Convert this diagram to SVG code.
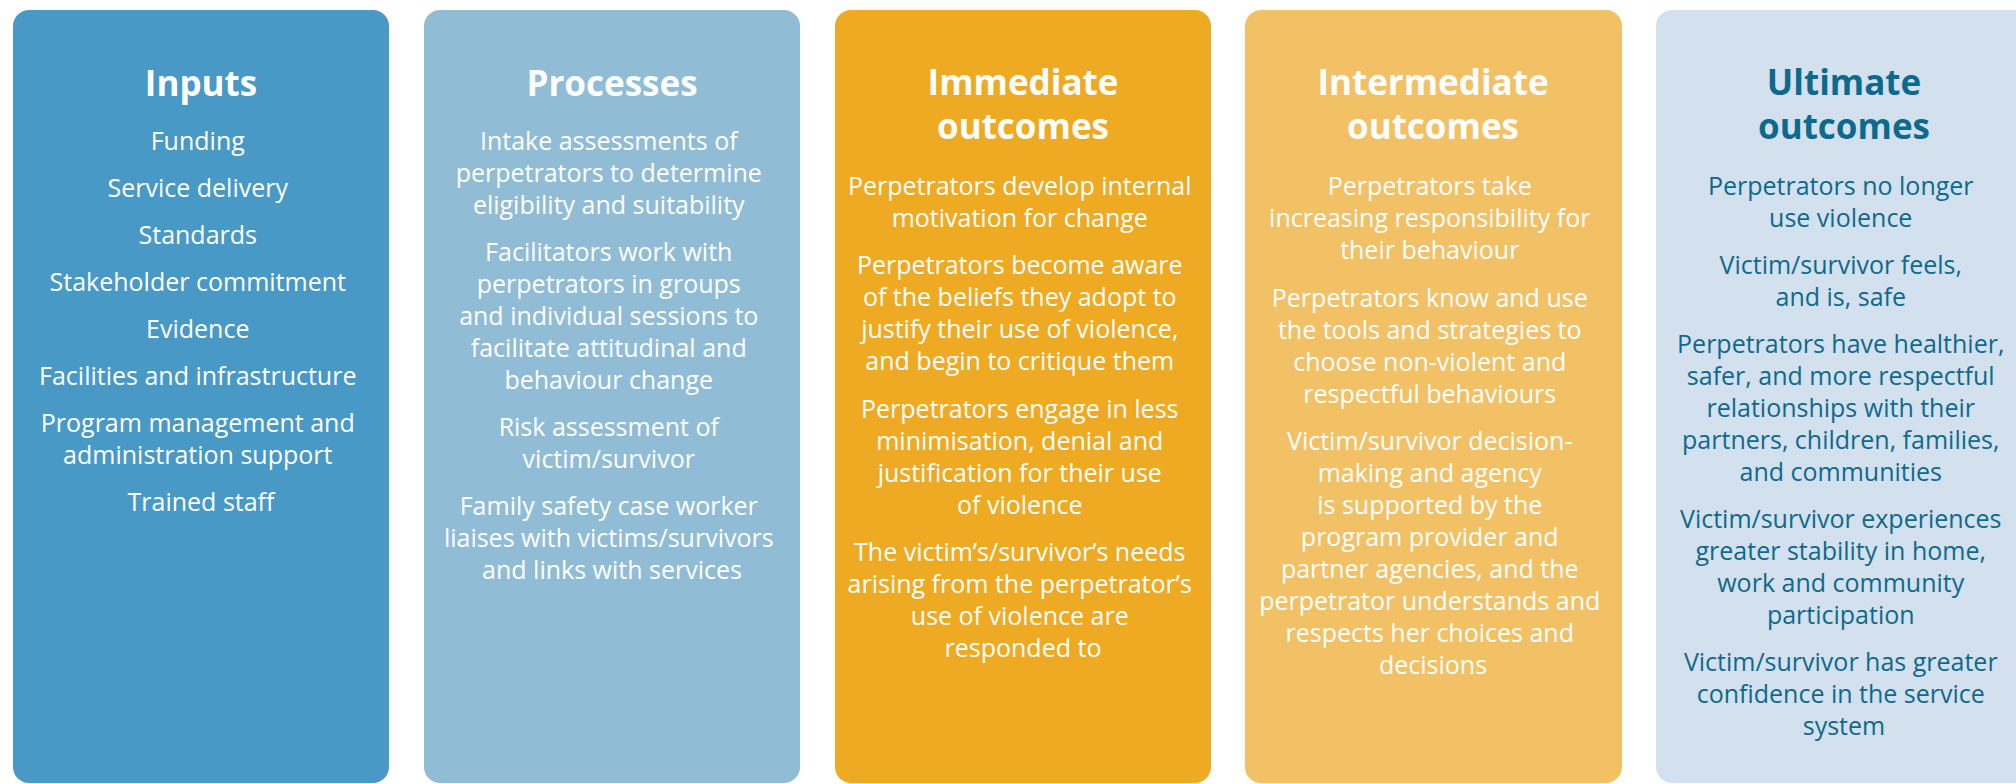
<svg xmlns="http://www.w3.org/2000/svg" width="2016" height="784" viewBox="0 0 2016 784">
<style>
.box{stroke:none}
.t{font-family:"Open Sans","Noto Sans","DejaVu Sans",sans-serif;text-anchor:middle}
.h{font-size:35px;font-weight:700}
.b{font-size:25px;font-weight:400}
.w{fill:#ffffff}
.d{fill:#0e6a8c}
</style>
<rect width="2016" height="784" fill="#ffffff"/>
<g id="inputs">
<rect class="box" x="13" y="10" width="376" height="773" rx="16" fill="#4899c6"/>
<text class="t h w" x="201" y="96">Inputs</text>
<text class="t b w" x="201">
<tspan x="201" y="150">Funding</tspan>
<tspan x="201" y="197">Service delivery</tspan>
<tspan x="201" y="244">Standards</tspan>
<tspan x="201" y="291">Stakeholder commitment</tspan>
<tspan x="201" y="338">Evidence</tspan>
<tspan x="201" y="385">Facilities and infrastructure</tspan>
<tspan x="201" y="432">Program management and</tspan>
<tspan x="201" y="464">administration support</tspan>
<tspan x="201" y="511">Trained staff</tspan>
</text>
</g>
<g id="processes">
<rect class="box" x="424" y="10" width="376" height="773" rx="16" fill="#90bcd5"/>
<text class="t h w" x="612" y="96">Processes</text>
<text class="t b w" x="612">
<tspan x="612" y="150">Intake assessments of</tspan>
<tspan x="612" y="182">perpetrators to determine</tspan>
<tspan x="612" y="214">eligibility and suitability</tspan>
<tspan x="612" y="261">Facilitators work with</tspan>
<tspan x="612" y="293">perpetrators in groups</tspan>
<tspan x="612" y="325">and individual sessions to</tspan>
<tspan x="612" y="357">facilitate attitudinal and</tspan>
<tspan x="612" y="389">behaviour change</tspan>
<tspan x="612" y="436">Risk assessment of</tspan>
<tspan x="612" y="468">victim/survivor</tspan>
<tspan x="612" y="515">Family safety case worker</tspan>
<tspan x="612" y="547">liaises with victims/survivors</tspan>
<tspan x="612" y="579">and links with services</tspan>
</text>
</g>
<g id="immediate-outcomes">
<rect class="box" x="835" y="10" width="376" height="773" rx="16" fill="#eeaa22"/>
<text class="t h w" x="1023" y="95">Immediate</text>
<text class="t h w" x="1023" y="139">outcomes</text>
<text class="t b w" x="1023">
<tspan x="1023" y="195">Perpetrators develop internal</tspan>
<tspan x="1023" y="227">motivation for change</tspan>
<tspan x="1023" y="274">Perpetrators become aware</tspan>
<tspan x="1023" y="306">of the beliefs they adopt to</tspan>
<tspan x="1023" y="338">justify their use of violence,</tspan>
<tspan x="1023" y="370">and begin to critique them</tspan>
<tspan x="1023" y="418">Perpetrators engage in less</tspan>
<tspan x="1023" y="450">minimisation, denial and</tspan>
<tspan x="1023" y="482">justification for their use</tspan>
<tspan x="1023" y="514">of violence</tspan>
<tspan x="1023" y="561">The victim’s/survivor’s needs</tspan>
<tspan x="1023" y="593">arising from the perpetrator’s</tspan>
<tspan x="1023" y="625">use of violence are</tspan>
<tspan x="1023" y="657">responded to</tspan>
</text>
</g>
<g id="intermediate-outcomes">
<rect class="box" x="1245" y="10" width="377" height="773" rx="16" fill="#f2c166"/>
<text class="t h w" x="1433" y="95">Intermediate</text>
<text class="t h w" x="1433" y="139">outcomes</text>
<text class="t b w" x="1433">
<tspan x="1433" y="195">Perpetrators take</tspan>
<tspan x="1433" y="227">increasing responsibility for</tspan>
<tspan x="1433" y="259">their behaviour</tspan>
<tspan x="1433" y="307">Perpetrators know and use</tspan>
<tspan x="1433" y="339">the tools and strategies to</tspan>
<tspan x="1433" y="371">choose non-violent and</tspan>
<tspan x="1433" y="403">respectful behaviours</tspan>
<tspan x="1433" y="450">Victim/survivor decision-</tspan>
<tspan x="1433" y="482">making and agency</tspan>
<tspan x="1433" y="514">is supported by the</tspan>
<tspan x="1433" y="546">program provider and</tspan>
<tspan x="1433" y="578">partner agencies, and the</tspan>
<tspan x="1433" y="610">perpetrator understands and</tspan>
<tspan x="1433" y="642">respects her choices and</tspan>
<tspan x="1433" y="674">decisions</tspan>
</text>
</g>
<g id="ultimate-outcomes">
<rect class="box" x="1656" y="10" width="376" height="773" rx="16" fill="#d3e0ed"/>
<text class="t h d" x="1844" y="95">Ultimate</text>
<text class="t h d" x="1844" y="139">outcomes</text>
<text class="t b d" x="1844">
<tspan x="1844" y="195">Perpetrators no longer</tspan>
<tspan x="1844" y="227">use violence</tspan>
<tspan x="1844" y="274">Victim/survivor feels,</tspan>
<tspan x="1844" y="306">and is, safe</tspan>
<tspan x="1844" y="353">Perpetrators have healthier,</tspan>
<tspan x="1844" y="385">safer, and more respectful</tspan>
<tspan x="1844" y="417">relationships with their</tspan>
<tspan x="1844" y="449">partners, children, families,</tspan>
<tspan x="1844" y="481">and communities</tspan>
<tspan x="1844" y="528">Victim/survivor experiences</tspan>
<tspan x="1844" y="560">greater stability in home,</tspan>
<tspan x="1844" y="592">work and community</tspan>
<tspan x="1844" y="624">participation</tspan>
<tspan x="1844" y="671">Victim/survivor has greater</tspan>
<tspan x="1844" y="703">confidence in the service</tspan>
<tspan x="1844" y="735">system</tspan>
</text>
</g>
<g id="connectors"/>
</svg>
